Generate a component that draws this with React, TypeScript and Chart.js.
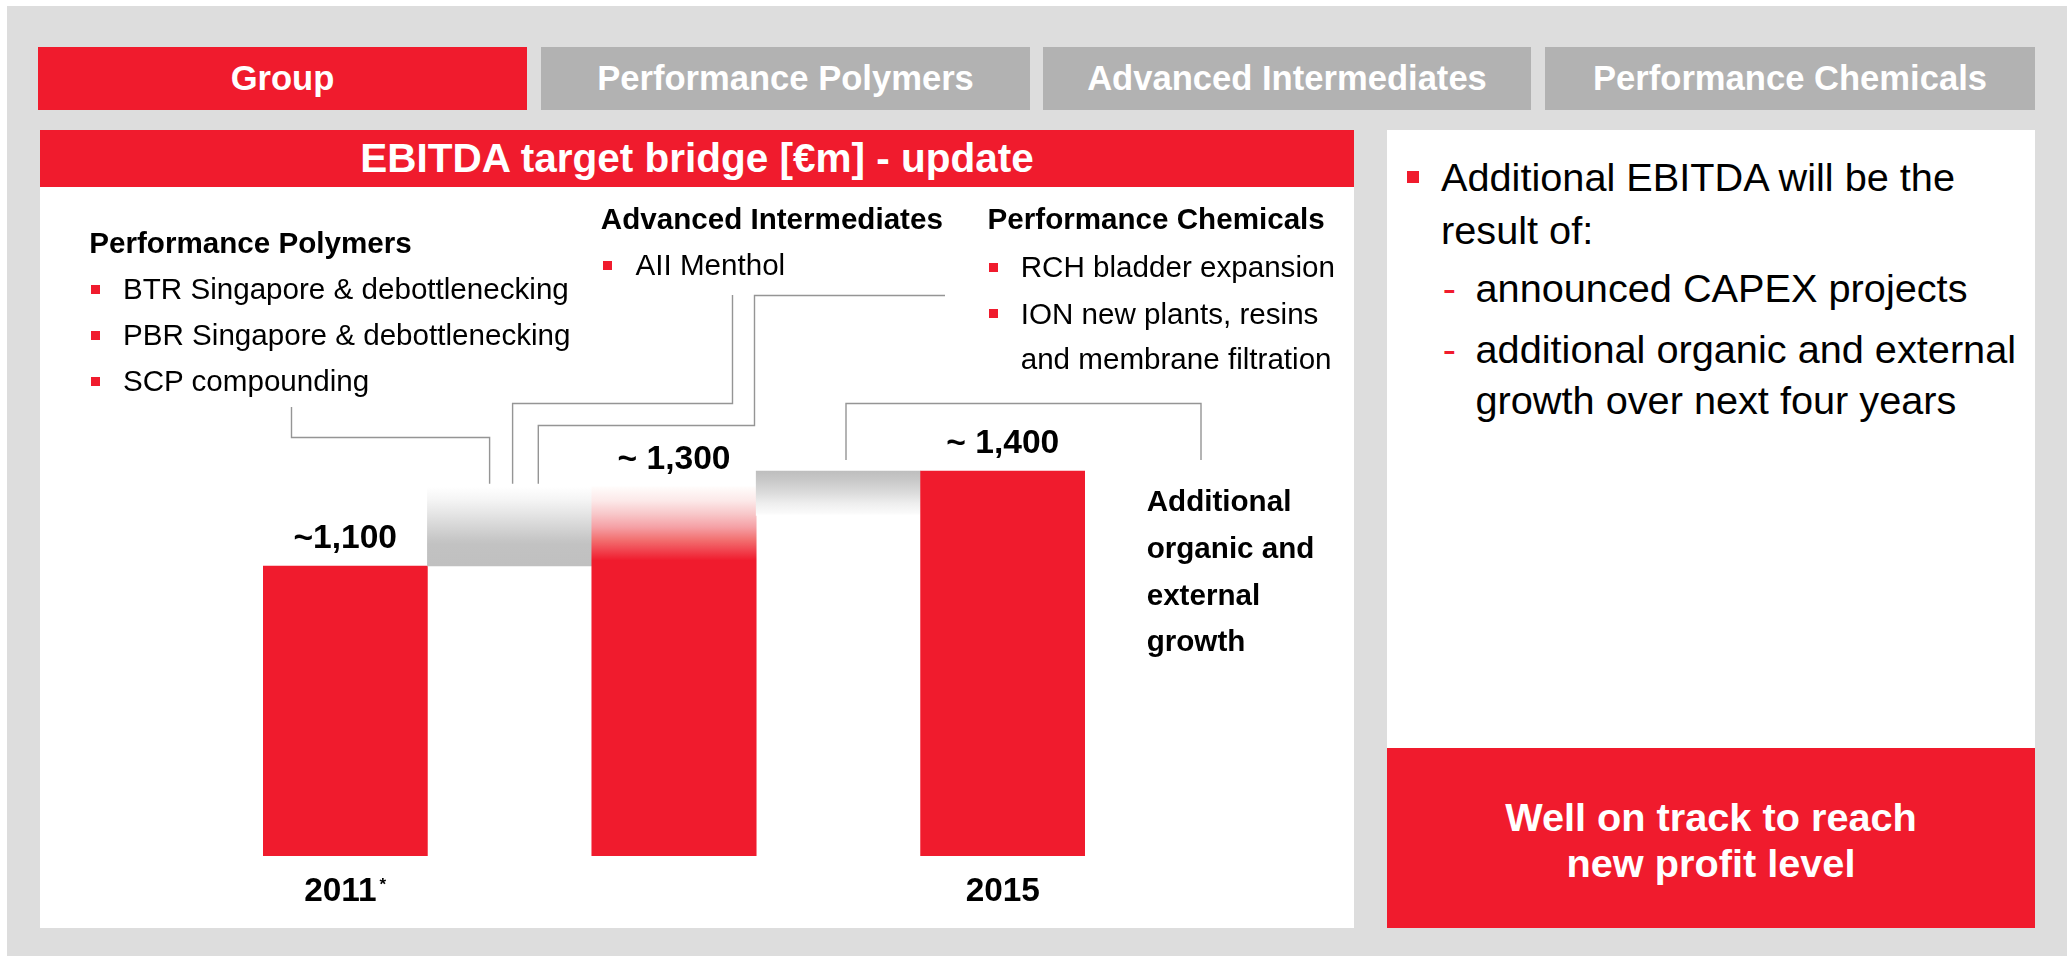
import React, { useEffect, useRef } from "react";
import { Chart, registerables } from "chart.js";

Chart.register(...registerables);

const FONT = '"Liberation Sans", Arial, Helvetica, sans-serif';
const RED = "#F01B2D";
const PAGE_GRAY = "#DDDDDD";
const TAB_GRAY = "#B2B2B2";

// ---------- data ----------
const tabs = ["Group", "Performance Polymers", "Advanced Intermediates", "Performance Chemicals"];
const chartTitle = "EBITDA target bridge [€m] - update";

const categories = ["2011", "", "", "", "2015"];
const footnoteMarks = ["*", "", "", "", ""];
const barStarts = [184, 1100, 184, 1260, 184];
const barEnds = [1100, 1350, 1350, 1400, 1400];
const valueLabels = ["~1,100", "", "~ 1,300", "", "~ 1,400"];
const Y_MIN = 184;
const Y_MAX = 1700;

const ppHeader = "Performance Polymers";
const ppItems = ["BTR Singapore & debottlenecking", "PBR Singapore & debottlenecking", "SCP compounding"];
const aiHeader = "Advanced Intermediates";
const aiItems = ["AII Menthol"];
const pcHeader = "Performance Chemicals";
const pcItems = ["RCH bladder expansion", "ION new plants, resins", "and membrane filtration"];
const growthNote = ["Additional", "organic and", "external", "growth"];

const sideMain = ["Additional EBITDA will be the", "result of:"];
const sideSub = ["announced CAPEX projects", "additional organic and external", "growth over next four years"];
const sideBox = ["Well on track to reach", "new profit level"];

// ---------- layout constants ----------
const PANEL_X = 40;
const PANEL_Y = 187;
const PANEL_W = 1314;
const PANEL_H = 741;
const LEFT_FS = 29.6;
const RIGHT_FS = 39.7;

function fillFor(c: any) {
  const chart = c.chart;
  const i = c.dataIndex;
  if (!chart.chartArea) return RED;
  const y = chart.scales.y;
  const g = chart.ctx as CanvasRenderingContext2D;
  if (i === 1) {
    const yb = y.getPixelForValue(barStarts[1]);
    const yt = y.getPixelForValue(barEnds[1]);
    const gr = g.createLinearGradient(0, yb, 0, yt);
    gr.addColorStop(0, "#C0C0C0");
    gr.addColorStop(0.27, "#C2C2C2");
    gr.addColorStop(0.33, "#C6C6C6");
    gr.addColorStop(0.49, "#D5D5D5");
    gr.addColorStop(0.67, "#E6E6E6");
    gr.addColorStop(0.84, "#F5F5F5");
    gr.addColorStop(1, "#FFFFFF");
    return gr;
  }
  if (i === 2) {
    const yb = y.getPixelForValue(barEnds[0]);
    const yt = y.getPixelForValue(barEnds[2]);
    const gr = g.createLinearGradient(0, yb, 0, yt);
    gr.addColorStop(0, RED);
    gr.addColorStop(0.07, RED);
    gr.addColorStop(0.2, "#F14550");
    gr.addColorStop(0.33, "#F27070");
    gr.addColorStop(0.49, "#F5A0A5");
    gr.addColorStop(0.66, "#F8C8CA");
    gr.addColorStop(0.82, "#FCE8E8");
    gr.addColorStop(1, "#FFFCFB");
    return gr;
  }
  if (i === 3) {
    const yt = y.getPixelForValue(barEnds[3]);
    const yb = y.getPixelForValue(barStarts[3]);
    const gr = g.createLinearGradient(0, yt, 0, yb);
    gr.addColorStop(0, "#BEBEBE");
    gr.addColorStop(0.2, "#C8C8C8");
    gr.addColorStop(0.5, "#DCDCDC");
    gr.addColorStop(0.73, "#EEEEEE");
    gr.addColorStop(0.95, "#FAFAFA");
    gr.addColorStop(1, "#FFFFFF");
    return gr;
  }
  return RED;
}

const overlayPlugin = {
  id: "bridgeOverlay",
  afterDatasetsDraw(chart: any) {
    const ctx = chart.ctx as CanvasRenderingContext2D;
    const meta = chart.getDatasetMeta(0);
    const area = chart.chartArea;
    const px = (x: number) => x - PANEL_X;
    const py = (y: number) => y - PANEL_Y;
    ctx.save();

    // connector lines
    const b1 = meta.data[1];
    const b3 = meta.data[3];
    const legBottom1 = b1.y - 3;
    const legBottom3 = b3.y - 11;
    const lines: number[][][] = [
      [[px(291.5), py(407)], [px(291.5), py(437.5)], [b1.x - 20, py(437.5)], [b1.x - 20, legBottom1]],
      [[b1.x + 3, legBottom1], [b1.x + 3, py(403.5)], [px(732.5), py(403.5)], [px(732.5), py(295)]],
      [[b1.x + 28.7, legBottom1], [b1.x + 28.7, py(425.5)], [px(754.5), py(425.5)], [px(754.5), py(295.5)], [px(945), py(295.5)]],
      [[b3.x + 7.6, legBottom3], [b3.x + 7.6, py(403.5)], [b3.x + 362.6, py(403.5)], [b3.x + 362.6, legBottom3]],
    ];
    ctx.strokeStyle = "#959595";
    ctx.lineWidth = 1.4;
    lines.forEach((pts) => {
      ctx.beginPath();
      pts.forEach((p, k) => (k === 0 ? ctx.moveTo(p[0], p[1]) : ctx.lineTo(p[0], p[1])));
      ctx.stroke();
    });

    // value labels
    ctx.fillStyle = "#000";
    ctx.font = `bold 33.6px ${FONT}`;
    ctx.textAlign = "center";
    ctx.textBaseline = "alphabetic";
    meta.data.forEach((el: any, i: number) => {
      if (valueLabels[i]) ctx.fillText(valueLabels[i], el.x, el.y - 18);
    });

    // category labels
    const base = area.bottom + 44.5;
    ctx.textAlign = "left";
    meta.data.forEach((el: any, i: number) => {
      const t = categories[i];
      if (!t) return;
      ctx.font = `bold 33.4px ${FONT}`;
      const w1 = ctx.measureText(t).width;
      const mark = footnoteMarks[i];
      ctx.font = `bold 17px ${FONT}`;
      const w2 = mark ? ctx.measureText(mark).width + 3 : 0;
      const x0 = el.x - (w1 + w2) / 2;
      ctx.font = `bold 33.4px ${FONT}`;
      ctx.fillText(t, x0, base);
      if (mark) {
        ctx.font = `bold 17px ${FONT}`;
        ctx.fillText(mark, x0 + w1 + 3, base - 11);
      }
    });
    ctx.restore();
  },
};

function BridgeChart() {
  const ref = useRef<HTMLCanvasElement | null>(null);
  useEffect(() => {
    const canvas = ref.current;
    if (!canvas) return;
    const chart = new Chart(canvas, {
      type: "bar",
      data: {
        labels: categories,
        datasets: [
          {
            data: barStarts.map((s, i) => [s, barEnds[i]]) as any,
            backgroundColor: fillFor as any,
            borderWidth: 0,
            barPercentage: 1,
            categoryPercentage: 1,
          },
        ],
      },
      options: {
        responsive: false,
        maintainAspectRatio: false,
        animation: false,
        devicePixelRatio: 1,
        events: [],
        layout: { padding: { left: 223, right: 269, top: 189, bottom: 72 } },
        scales: {
          x: { display: false },
          y: { display: false, min: Y_MIN, max: Y_MAX },
        },
        plugins: { legend: { display: false }, tooltip: { enabled: false }, title: { display: false } },
      },
      plugins: [overlayPlugin],
    });
    return () => chart.destroy();
  }, []);
  return (
    <canvas
      ref={ref}
      width={PANEL_W}
      height={PANEL_H}
      style={{ position: "absolute", left: PANEL_X, top: PANEL_Y, width: PANEL_W, height: PANEL_H }}
    />
  );
}

// text line placed by its baseline
function Line(props: { x: number; baseline: number; size: number; lh: number; bold?: boolean; color?: string; children: any }) {
  const { x, baseline, size, lh, bold, color, children } = props;
  const top = baseline - lh / 2 - 0.3465 * size;
  return (
    <div
      style={{
        position: "absolute",
        left: x,
        top,
        fontSize: size,
        lineHeight: `${lh}px`,
        fontWeight: bold ? 700 : 400,
        color: color || "#000",
        whiteSpace: "nowrap",
      }}
    >
      {children}
    </div>
  );
}

function Square(props: { x: number; y: number; s: number }) {
  return <div style={{ position: "absolute", left: props.x, top: props.y, width: props.s, height: props.s, background: RED }} />;
}

export default function App() {
  const tabBoxes = [
    [38, 527],
    [541, 1030],
    [1043, 1531],
    [1545, 2035],
  ];
  const ppBase = [299, 345.5, 391.7];
  const pcBase = [277.5, 324, 369.5];
  return (
    <div
      style={{
        position: "absolute",
        left: 0,
        top: 0,
        width: 2067,
        height: 956,
        background: "#fff",
        overflow: "hidden",
        fontFamily: FONT,
      }}
    >
      <div style={{ position: "absolute", left: 7, top: 6, width: 2060, height: 950, background: PAGE_GRAY }} />

      {tabs.map((t, i) => (
        <div
          key={t}
          style={{
            position: "absolute",
            left: tabBoxes[i][0],
            top: 47,
            width: tabBoxes[i][1] - tabBoxes[i][0],
            height: 63,
            background: i === 0 ? RED : TAB_GRAY,
            color: "#fff",
            fontWeight: 700,
            fontSize: 34.6,
            display: "flex",
            alignItems: "center",
            justifyContent: "center",
            whiteSpace: "nowrap",
          }}
        >
          {t}
        </div>
      ))}

      {/* title bar */}
      <div
        style={{
          position: "absolute",
          left: PANEL_X,
          top: 130,
          width: PANEL_W,
          height: 57,
          background: RED,
          color: "#fff",
          fontWeight: 700,
          fontSize: 40.5,
          display: "flex",
          alignItems: "center",
          justifyContent: "center",
          whiteSpace: "nowrap",
        }}
      >
        {chartTitle}
      </div>

      {/* left white panel */}
      <div style={{ position: "absolute", left: PANEL_X, top: PANEL_Y, width: PANEL_W, height: PANEL_H, background: "#fff" }} />
      <BridgeChart />

      {/* Performance Polymers */}
      <Line x={89.3} baseline={253.3} size={LEFT_FS} lh={46} bold>
        {ppHeader}
      </Line>
      {ppItems.map((t, i) => (
        <React.Fragment key={t}>
          <Square x={90.6} y={ppBase[i] - 14.5} s={9} />
          <Line x={123} baseline={ppBase[i]} size={LEFT_FS} lh={46}>
            {t}
          </Line>
        </React.Fragment>
      ))}

      {/* Advanced Intermediates */}
      <Line x={600.8} baseline={229.3} size={LEFT_FS} lh={46} bold>
        {aiHeader}
      </Line>
      {aiItems.map((t) => (
        <React.Fragment key={t}>
          <Square x={603.4} y={275.7 - 15} s={9} />
          <Line x={635.5} baseline={275.7} size={LEFT_FS} lh={46}>
            {t}
          </Line>
        </React.Fragment>
      ))}

      {/* Performance Chemicals */}
      <Line x={987.6} baseline={229.5} size={LEFT_FS} lh={46} bold>
        {pcHeader}
      </Line>
      {pcItems.map((t, i) => (
        <React.Fragment key={t}>
          {i < 2 ? <Square x={988.6} y={pcBase[i] - 15} s={9} /> : null}
          <Line x={1020.7} baseline={pcBase[i]} size={LEFT_FS} lh={46}>
            {t}
          </Line>
        </React.Fragment>
      ))}

      {/* growth note */}
      {growthNote.map((t, i) => (
        <Line key={t} x={1146.7} baseline={511.7 + i * 46.67} size={LEFT_FS} lh={46} bold>
          {t}
        </Line>
      ))}

      {/* right panel */}
      <div style={{ position: "absolute", left: 1387, top: 130, width: 648, height: 618, background: "#fff" }} />
      <div style={{ position: "absolute", left: 1387, top: 748, width: 648, height: 180, background: RED }} />
      <Square x={1407} y={170.6} s={12} />
      <Line x={1441} baseline={191} size={RIGHT_FS} lh={52}>
        {sideMain[0]}
      </Line>
      <Line x={1441} baseline={244} size={RIGHT_FS} lh={52}>
        {sideMain[1]}
      </Line>
      <Line x={1442.7} baseline={302} size={RIGHT_FS} lh={52} color={RED}>
        -
      </Line>
      <Line x={1475.5} baseline={302} size={RIGHT_FS} lh={52}>
        {sideSub[0]}
      </Line>
      <Line x={1442.7} baseline={362.5} size={RIGHT_FS} lh={52} color={RED}>
        -
      </Line>
      <Line x={1475.5} baseline={362.5} size={RIGHT_FS} lh={52}>
        {sideSub[1]}
      </Line>
      <Line x={1475.5} baseline={413.5} size={RIGHT_FS} lh={52}>
        {sideSub[2]}
      </Line>
      {sideBox.map((t, i) => (
        <div
          key={t}
          style={{
            position: "absolute",
            left: 1387,
            width: 648,
            top: (i === 0 ? 830.5 : 877) - 26 - 0.3465 * RIGHT_FS,
            lineHeight: "52px",
            fontSize: RIGHT_FS,
            fontWeight: 700,
            color: "#fff",
            textAlign: "center",
            whiteSpace: "nowrap",
          }}
        >
          {t}
        </div>
      ))}
    </div>
  );
}
